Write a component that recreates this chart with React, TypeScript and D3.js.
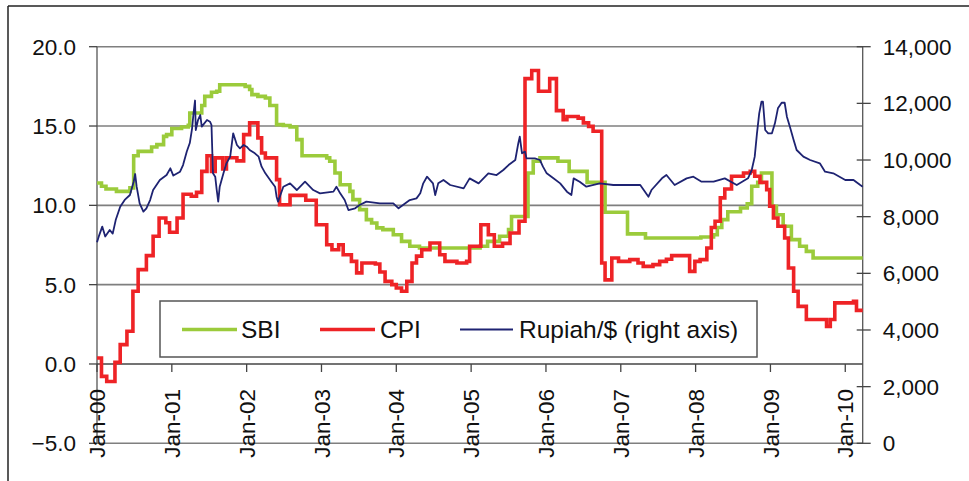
import React from "react";
import * as d3 from "d3";

// ---------- DATA ----------
const yearTicks = [2000, 2001, 2002, 2003, 2004, 2005, 2006, 2007, 2008, 2009, 2010];
const yearLabels = ["Jan-00", "Jan-01", "Jan-02", "Jan-03", "Jan-04", "Jan-05", "Jan-06", "Jan-07", "Jan-08", "Jan-09", "Jan-10"];
const leftTicks = [-5, 0, 5, 10, 15, 20];
const rightTicks = [0, 2000, 4000, 6000, 8000, 10000, 12000, 14000];

// SBI rate (%), step series: [decimal year, value]
const sbiT = [2000.00, 2000.06, 2000.12, 2000.26, 2000.44, 2000.49, 2000.55, 2000.73, 2000.80, 2000.89, 2000.93, 2001.00, 2001.13, 2001.22, 2001.24, 2001.40, 2001.44, 2001.53, 2001.60, 2001.64, 2001.98, 2002.04, 2002.07, 2002.15, 2002.25, 2002.31, 2002.40, 2002.49, 2002.58, 2002.67, 2002.74, 2003.07, 2003.11, 2003.18, 2003.25, 2003.38, 2003.42, 2003.51, 2003.60, 2003.67, 2003.74, 2003.82, 2003.96, 2004.07, 2004.18, 2004.31, 2005.12, 2005.22, 2005.38, 2005.50, 2005.54, 2005.76, 2005.83, 2005.92, 2006.16, 2006.31, 2006.55, 2006.79, 2007.09, 2007.33, 2008.07, 2008.24, 2008.29, 2008.35, 2008.43, 2008.60, 2008.69, 2008.75, 2008.83, 2008.88, 2009.02, 2009.08, 2009.17, 2009.28, 2009.39, 2009.48, 2009.57, 2010.233];
const sbiV = [11.41, 11.2, 11.03, 10.88, 11.1, 13.13, 13.4, 13.68, 13.83, 14.35, 14.46, 14.84, 14.94, 15.04, 15.82, 16.29, 16.87, 17.13, 17.19, 17.6, 17.5, 17.3, 16.98, 16.87, 16.77, 16.29, 15.09, 15.03, 14.94, 14.14, 13.13, 12.99, 12.78, 12.04, 11.3, 10.88, 10.36, 9.73, 9.1, 8.89, 8.58, 8.47, 8.15, 7.73, 7.42, 7.31, 7.42, 7.73, 8.05, 8.47, 9.3, 12.04, 12.78, 12.99, 12.78, 12.14, 11.45, 9.56, 8.2, 7.94, 8.0, 8.15, 8.6, 9.1, 9.6, 9.83, 10.1, 11.2, 11.45, 12.04, 9.94, 9.41, 8.68, 7.84, 7.42, 7.1, 6.68, 6.68];

// CPI inflation (%), step series
const cpiT = [2000.00, 2000.06, 2000.13, 2000.24, 2000.31, 2000.40, 2000.48, 2000.55, 2000.66, 2000.75, 2000.83, 2000.92, 2000.97, 2001.07, 2001.15, 2001.26, 2001.33, 2001.40, 2001.47, 2001.53, 2001.58, 2001.68, 2001.73, 2001.87, 2001.96, 2002.04, 2002.15, 2002.20, 2002.25, 2002.40, 2002.44, 2002.58, 2002.79, 2002.93, 2003.07, 2003.14, 2003.23, 2003.29, 2003.40, 2003.47, 2003.54, 2003.72, 2003.78, 2003.85, 2003.94, 2004.00, 2004.07, 2004.14, 2004.21, 2004.27, 2004.34, 2004.45, 2004.58, 2004.65, 2004.81, 2004.94, 2004.98, 2005.13, 2005.23, 2005.31, 2005.42, 2005.52, 2005.64, 2005.72, 2005.81, 2005.90, 2006.05, 2006.14, 2006.23, 2006.28, 2006.43, 2006.50, 2006.57, 2006.63, 2006.745, 2006.79, 2006.88, 2006.97, 2007.12, 2007.23, 2007.30, 2007.43, 2007.52, 2007.61, 2007.68, 2007.92, 2007.99, 2008.06, 2008.15, 2008.21, 2008.26, 2008.33, 2008.39, 2008.48, 2008.64, 2008.73, 2008.79, 2008.86, 2008.95, 2008.99, 2009.04, 2009.10, 2009.19, 2009.24, 2009.31, 2009.37, 2009.48, 2009.75, 2009.80, 2009.86, 2010.11, 2010.15, 2010.233];
const cpiV = [0.38, -0.78, -1.1, 0.1, 1.22, 2.06, 4.58, 5.95, 6.83, 8.05, 9.2, 8.9, 8.3, 9.2, 10.7, 10.57, 10.82, 12.14, 13.13, 12.14, 12.99, 12.3, 13.0, 12.8, 14.46, 15.2, 14.25, 13.3, 12.99, 11.62, 10.04, 10.63, 10.32, 8.78, 7.52, 7.2, 7.52, 6.89, 6.47, 5.74, 6.37, 6.3, 5.8, 5.21, 5.0, 4.79, 4.58, 5.21, 6.37, 6.8, 7.2, 7.63, 6.89, 6.47, 6.37, 6.47, 7.42, 8.78, 8.15, 7.42, 7.6, 8.26, 9.0, 17.99, 18.5, 17.19, 17.99, 15.97, 15.4, 15.6, 15.5, 15.2, 14.98, 14.67, 6.37, 5.3, 6.68, 6.47, 6.58, 6.37, 6.15, 6.26, 6.47, 6.6, 6.83, 5.84, 6.47, 6.58, 7.31, 8.6, 9.0, 10.47, 11.03, 11.83, 12.04, 12.14, 11.83, 11.45, 10.99, 9.94, 9.2, 8.68, 7.94, 6.05, 4.58, 3.63, 2.8, 2.37, 2.8, 3.85, 3.95, 3.38, 3.38];

// Rupiah per US$ (right axis)
const rpT = [2000.00, 2000.03, 2000.07, 2000.11, 2000.17, 2000.21, 2000.25, 2000.31, 2000.37, 2000.44, 2000.49, 2000.51, 2000.53, 2000.57, 2000.62, 2000.66, 2000.71, 2000.75, 2000.84, 2000.93, 2000.98, 2001.02, 2001.11, 2001.15, 2001.20, 2001.24, 2001.27, 2001.29, 2001.31, 2001.32, 2001.35, 2001.38, 2001.40, 2001.47, 2001.51, 2001.53, 2001.55, 2001.58, 2001.60, 2001.62, 2001.64, 2001.69, 2001.73, 2001.78, 2001.82, 2001.87, 2001.91, 2001.96, 2002.00, 2002.04, 2002.11, 2002.16, 2002.20, 2002.25, 2002.33, 2002.38, 2002.40, 2002.42, 2002.49, 2002.58, 2002.67, 2002.78, 2002.89, 2002.98, 2003.16, 2003.20, 2003.25, 2003.31, 2003.36, 2003.45, 2003.51, 2003.60, 2003.78, 2003.96, 2004.03, 2004.18, 2004.27, 2004.32, 2004.36, 2004.41, 2004.49, 2004.52, 2004.56, 2004.63, 2004.72, 2004.90, 2004.98, 2005.10, 2005.23, 2005.34, 2005.43, 2005.50, 2005.59, 2005.63, 2005.65, 2005.68, 2005.72, 2005.74, 2005.85, 2005.92, 2005.96, 2006.01, 2006.10, 2006.19, 2006.28, 2006.34, 2006.37, 2006.45, 2006.54, 2006.72, 2006.90, 2007.08, 2007.26, 2007.37, 2007.41, 2007.55, 2007.61, 2007.72, 2007.88, 2007.97, 2008.08, 2008.24, 2008.39, 2008.55, 2008.70, 2008.75, 2008.79, 2008.82, 2008.85, 2008.88, 2008.90, 2008.93, 2008.97, 2009.02, 2009.06, 2009.10, 2009.15, 2009.19, 2009.22, 2009.26, 2009.31, 2009.35, 2009.44, 2009.53, 2009.66, 2009.73, 2009.84, 2010.00, 2010.11, 2010.20, 2010.233];
const rpV = [7100, 7350, 7650, 7300, 7530, 7400, 7880, 8350, 8590, 8765, 9234, 9506, 9058, 8470, 8176, 8294, 8588, 8941, 9294, 9470, 9707, 9450, 9587, 9823, 10300, 10600, 11100, 11650, 12100, 11059, 11412, 11589, 11177, 11412, 11353, 11236, 9530, 9411, 8941, 8530, 9058, 9530, 9883, 10118, 10942, 10530, 10412, 10530, 10470, 10353, 10236, 10118, 9765, 9530, 9235, 9058, 8705, 8530, 9058, 9176, 8941, 9235, 8941, 8824, 8883, 9058, 8824, 8588, 8235, 8294, 8412, 8530, 8470, 8470, 8294, 8588, 8647, 8824, 9176, 9411, 9176, 8765, 9176, 9294, 9118, 9000, 9353, 9176, 9530, 9470, 9647, 9823, 10000, 10589, 10823, 10236, 10295, 10059, 10059, 10000, 9765, 9530, 9353, 9176, 8883, 8765, 9353, 9235, 9058, 9176, 9118, 9118, 9118, 8705, 8941, 9353, 9470, 9118, 9353, 9411, 9235, 9235, 9353, 9118, 9353, 9647, 10118, 10942, 11648, 12058, 12058, 11059, 10942, 10942, 11295, 11824, 12022, 12022, 11530, 11177, 10706, 10353, 10118, 10000, 9883, 9587, 9530, 9294, 9294, 9118, 9060];

const legendItems = ["SBI", "CPI", "Rupiah/$ (right axis)"];

// ---------- LAYOUT ----------
const W = 969;
const H = 481;
const L = 97;
const R = 862.7;
const T = 46.7;
const B = 443.3;
const FONT = "'Liberation Sans', Arial, sans-serif";
const GREEN = "#9BCB3B";
const RED = "#EE2326";
const NAVY = "#1E2372";

export default function App() {
  const x = d3.scaleLinear().domain([2000, 2010.233]).range([L, R]);
  const yL = d3.scaleLinear().domain([-5, 20]).range([B, T]);
  const yR = d3.scaleLinear().domain([0, 14000]).range([B, T]);

  const stepLine = d3
    .line<[number, number]>()
    .x((d) => x(d[0]))
    .y((d) => yL(d[1]))
    .curve(d3.curveStepAfter);
  const rpLine = d3
    .line<[number, number]>()
    .x((d) => x(d[0]))
    .y((d) => yR(d[1]));

  const sbi = sbiT.map((t, i) => [t, sbiV[i]] as [number, number]);
  const cpi = cpiT.map((t, i) => [t, cpiV[i]] as [number, number]);
  const rp = rpT.map((t, i) => [t, rpV[i]] as [number, number]);

  const fmtL = d3.format(".1f");
  const fmtR = d3.format(",");
  const y0 = yL(0);

  const legX = 160;
  const legY = 301;
  const legW = 597;
  const legH = 56;
  const legMid = legY + 28.5;
  const legendPos = [
    { x1: 182, x2: 237, tx: 241, color: GREEN, w: 3.6 },
    { x1: 320, x2: 375, tx: 380, color: RED, w: 3.6 },
    { x1: 460, x2: 513, tx: 519, color: NAVY, w: 1.8 },
  ];

  return (
    <svg
      width={W}
      height={H}
      style={{ position: "absolute", left: 0, top: 0, background: "#fff" }}
      fontFamily={FONT}
    >
      <rect x={0} y={0} width={W} height={H} fill="#fff" />
      {/* outer frame */}
      <line x1={8} y1={6} x2={W} y2={6} stroke="#222" strokeWidth={1.5} />
      <line x1={8} y1={6} x2={8} y2={H} stroke="#222" strokeWidth={1.5} />

      {/* gridlines */}
      {leftTicks.filter((v) => v !== 0).map((v) => (
        <line key={"g" + v} x1={L} x2={R} y1={yL(v)} y2={yL(v)} stroke="#7f7f7f" strokeWidth={1.6} />
      ))}

      {/* left axis */}
      <line x1={L} x2={L} y1={T} y2={B} stroke="#555" strokeWidth={1.3} />
      {leftTicks.map((v) => (
        <g key={"l" + v}>
          <line x1={L - 8} x2={L} y1={yL(v)} y2={yL(v)} stroke="#444" strokeWidth={1.3} />
          <text x={76} y={yL(v)} dy="0.36em" textAnchor="end" fontSize={22.5} fill="#111">
            {fmtL(v)}
          </text>
        </g>
      ))}

      {/* right axis */}
      <line x1={R} x2={R} y1={T} y2={B} stroke="#555" strokeWidth={1.3} />
      {rightTicks.map((v) => (
        <g key={"r" + v}>
          <line x1={R - 6} x2={R + 8} y1={yR(v)} y2={yR(v)} stroke="#444" strokeWidth={1.3} />
          <text x={882.7} y={yR(v)} dy="0.36em" textAnchor="start" fontSize={22.5} fill="#111">
            {fmtR(v)}
          </text>
        </g>
      ))}

      {/* category axis at zero */}
      <line x1={L} x2={R} y1={y0} y2={y0} stroke="#444" strokeWidth={1.5} />
      {yearTicks.map((t, i) => (
        <g key={"x" + t}>
          <line x1={x(t)} x2={x(t)} y1={y0} y2={y0 + 8} stroke="#444" strokeWidth={1.3} />
          <text
            transform={`translate(${x(t)},389) rotate(-90)`}
            dy="0.36em"
            textAnchor="end"
            fontSize={22.5}
            fill="#111"
          >
            {yearLabels[i]}
          </text>
        </g>
      ))}

      {/* series */}
      <path d={stepLine(sbi) || ""} fill="none" stroke={GREEN} strokeWidth={3.6} strokeLinejoin="miter" />
      <path d={stepLine(cpi) || ""} fill="none" stroke={RED} strokeWidth={3.6} strokeLinejoin="miter" />
      <path d={rpLine(rp) || ""} fill="none" stroke={NAVY} strokeWidth={1.8} strokeLinejoin="round" />

      {/* legend */}
      <rect x={legX} y={legY} width={legW} height={legH} fill="#fff" stroke="#555" strokeWidth={1.5} />
      {legendItems.map((name, i) => (
        <g key={name}>
          <line
            x1={legendPos[i].x1}
            x2={legendPos[i].x2}
            y1={legMid}
            y2={legMid}
            stroke={legendPos[i].color}
            strokeWidth={legendPos[i].w}
          />
          <text x={legendPos[i].tx} y={legMid} dy="0.36em" fontSize={24.5} fill="#111">
            {name}
          </text>
        </g>
      ))}
    </svg>
  );
}
